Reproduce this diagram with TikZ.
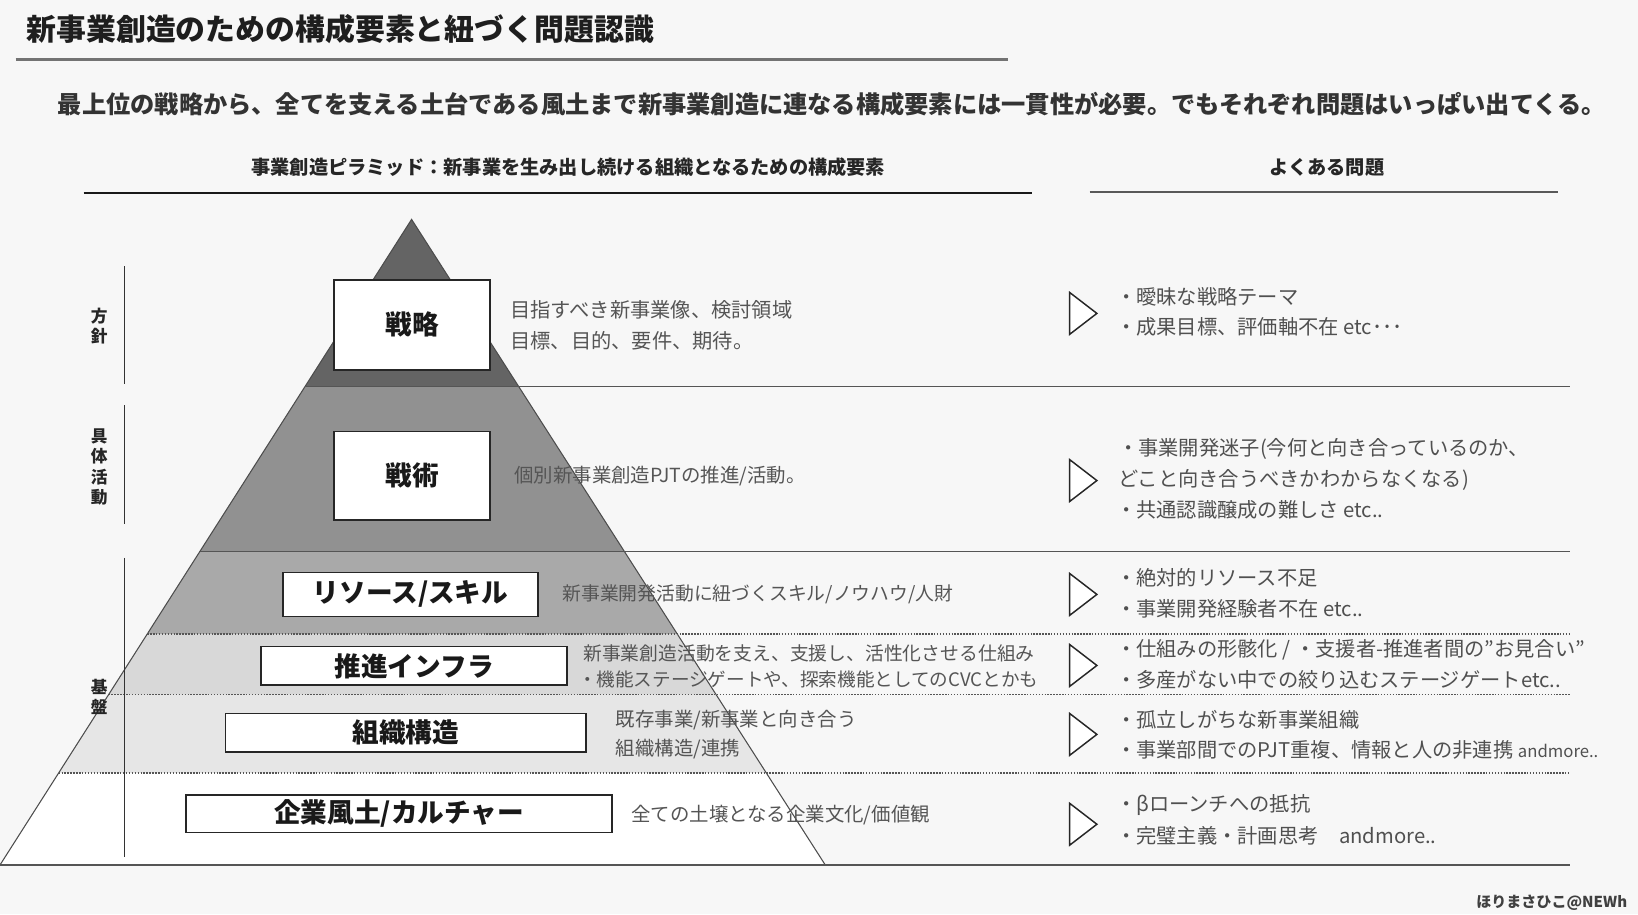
\documentclass[tikz,border=0pt]{standalone}
\usepackage{fontspec}
\setmainfont{Noto Sans CJK JP}
\definecolor{bg}{HTML}{F7F7F7}
\definecolor{titlecol}{HTML}{1E1E1E}
\definecolor{subcol}{HTML}{333333}
\definecolor{descgray}{HTML}{555555}
\definecolor{probgray}{HTML}{505050}
\definecolor{sepgray}{HTML}{555555}
\definecolor{Lone}{HTML}{646464}
\definecolor{Ltwo}{HTML}{919191}
\definecolor{Lthree}{HTML}{A9A9A9}
\definecolor{Lfour}{HTML}{D8D8D8}
\definecolor{Lfive}{HTML}{E6E6E6}
\begin{document}
\begin{tikzpicture}[x=0.5pt,y=-0.5pt,
  box/.style={draw=black!85, line width=0.8pt, fill=white, inner sep=0pt, font=\bfseries\fontsize{12.75}{14}\selectfont, text=black!90},
  desc/.style={anchor=west, inner sep=0pt, text=descgray, font=\fontsize{9.3}{11}\selectfont},
  prob/.style={anchor=west, inner sep=0pt, text=probgray, font=\fontsize{9.7}{11}\selectfont},
  tri/.style={fill=white, draw=black!85, line width=0.7pt, line join=miter},
  sepsolid/.style={draw=sepgray, line width=0.7pt},
  sepdot/.style={draw=sepgray, line width=0.6pt, dash pattern=on 0.7pt off 0.7pt},
  side/.style={font=\bfseries\fontsize{8}{9.8}\selectfont, align=center, inner sep=0pt, text=black!85},
  sideline/.style={draw=black!80, line width=0.7pt},
  head/.style={font=\bfseries\fontsize{9.2}{11}\selectfont, inner sep=0pt, text=black!85},
]
\useasboundingbox (0,0) rectangle (1568,875);
\fill[bg] (0,0) rectangle (1568,875);

% title
\node[anchor=west, inner sep=0pt, text=titlecol, font=\bfseries\fontsize{14.3}{16}\selectfont] (title) at (25,28) {新事業創造のための構成要素と紐づく問題認識};
\draw[draw=black!55, line width=1.5pt] (15,57) -- (965,57);
\node[anchor=west, inner sep=0pt, text=subcol, font=\bfseries\fontsize{11.6}{13}\selectfont] (subtitle) at (55,100) {最上位の戦略から、全てを支える土台である風土まで新事業創造に連なる構成要素には一貫性が必要。でもそれぞれ問題はいっぱい出てくる。};

% headers
\node[head] (headL) at (544,160) {事業創造ピラミッド：新事業を生み出し続ける組織となるための構成要素};
\draw[draw=black!90, line width=1pt] (80,185) -- (988,185);
\node[head] (headR) at (1270,160) {よくある問題};
\draw[draw=black!65, line width=1pt] (1043,184) -- (1491,184);

% pyramid
\fill[Lone] (394,210) -- (496.5,370) -- (292,370) -- cycle;
\fill[Ltwo] (292,370) -- (496.5,370) -- (597.8,528) -- (191.3,528) -- cycle;
\fill[Lthree] (191.3,528) -- (597.8,528) -- (648.4,607) -- (140.9,607) -- cycle;
\fill[Lfour] (140.9,607) -- (648.4,607) -- (685.6,665) -- (103.9,665) -- cycle;
\fill[Lfive] (103.9,665) -- (685.6,665) -- (733.6,740) -- (56.1,740) -- cycle;
\fill[white] (56.1,740) -- (733.6,740) -- (790,828) -- (0,828) -- cycle;
\draw[draw=black!70, line width=0.5pt, line join=miter] (394,210) -- (790,828) -- (0,828) -- cycle;

% separators
\draw[sepsolid] (292,370) -- (1503,370);
\draw[sepsolid] (191.3,528) -- (1503,528);
\draw[sepdot] (140.9,607) -- (1503,607);
\draw[sepdot] (103.9,665) -- (1503,665);
\draw[sepdot] (56.1,740) -- (1503,740);
\draw[sepsolid] (0,828) -- (1503,828);

% side labels
\node[side] (sideA) at (95,312) {方\\針};
\node[side] (sideB) at (95,447) {具\\体\\活\\動};
\node[side] (sideC) at (95,667) {基\\盤};
\draw[sideline] (119,255) -- (119,368);
\draw[sideline] (119,388) -- (119,502);
\draw[sideline] (119,534) -- (119,820);

% boxes
\node[box, minimum width=74.5pt, minimum height=43pt] (b1) at (394.5,311) {戦略};
\node[box, minimum width=74.5pt, minimum height=42.5pt] (b2) at (394.5,455.5) {戦術};
\node[box, minimum width=122pt, minimum height=21pt] (b3) at (393,569) {リソース/スキル};
\node[box, minimum width=146.5pt, minimum height=18.5pt] (b4) at (396.5,637.5) {推進インフラ};
\node[box, minimum width=172.5pt, minimum height=18.5pt] (b5) at (388.5,701.5) {組織構造};
\node[box, minimum width=204pt, minimum height=18pt] (b6) at (382,779) {企業風土/カルチャー};

% descriptions
\node[desc, font=\fontsize{9.7}{11}\selectfont] (d1a) at (488,297) {目指すべき新事業像、検討領域};
\node[desc, font=\fontsize{9.7}{11}\selectfont] (d1b) at (488,326) {目標、目的、要件、期待。};
\node[desc] (d2) at (492,456) {個別新事業創造PJTの推進/活動。};
\node[desc, font=\fontsize{9}{11}\selectfont] (d3) at (538,569) {新事業開発活動に紐づくスキル/ノウハウ/人財};
\node[desc, font=\fontsize{9}{11}\selectfont] (d4a) at (558,625) {新事業創造活動を支え、支援し、活性化させる仕組み};
\node[desc, font=\fontsize{8.9}{11}\selectfont] (d4b) at (553,650) {・機能ステージゲートや、探索機能としてのCVCとかも};
\node[desc] (d5a) at (589,689) {既存事業/新事業と向き合う};
\node[desc] (d5b) at (589,717) {組織構造/連携};
\node[desc] (d6) at (604,780) {全ての土壌となる企業文化/価値観};

% triangles
\foreach \c in {300,460,569,637,703,789}{
  \draw[tri] (1024,\c-20) -- (1050,\c) -- (1024,\c+20) -- cycle;
}

% problems
\node[prob] (p1a) at (1068,284) {・曖昧な戦略テーマ};
\node[prob] (p1b) at (1068,313) {・成果目標、評価軸不在 etc･･･};
\node[prob] (p2a) at (1070,430) {・事業開発迷子(今何と向き合っているのか、};
\node[prob] (p2b) at (1070,459) {どこと向き合うべきかわからなくなる)};
\node[prob] (p2c) at (1068,488) {・共通認識醸成の難しさ etc..};
\node[prob] (p3a) at (1068,553) {・絶対的リソース不足};
\node[prob] (p3b) at (1068,583) {・事業開発経験者不在 etc..};
\node[prob] (p4a) at (1068,622) {・仕組みの形骸化 / ・支援者-推進者間の"お見合い"};
\node[prob] (p4b) at (1068,651) {・多産がない中での絞り込むステージゲートetc..};
\node[prob] (p5a) at (1068,689) {・孤立しがちな新事業組織};
\node[prob] (p5b) at (1068,718) {・事業部間でのPJT重複、情報と人の非連携 {\fontsize{8}{9}\selectfont andmore..}};
\node[prob] (p6a) at (1068,771) {・βローンチへの抵抗};
\node[prob] (p6b) at (1068,800) {・完璧主義・計画思考　andmore..};

% credit
\node[anchor=east, inner sep=0pt, text=black!75, font=\bfseries\fontsize{7.2}{9}\selectfont] (credit) at (1558,864) {ほりまさひこ@NEWh};
\end{tikzpicture}
\end{document}
